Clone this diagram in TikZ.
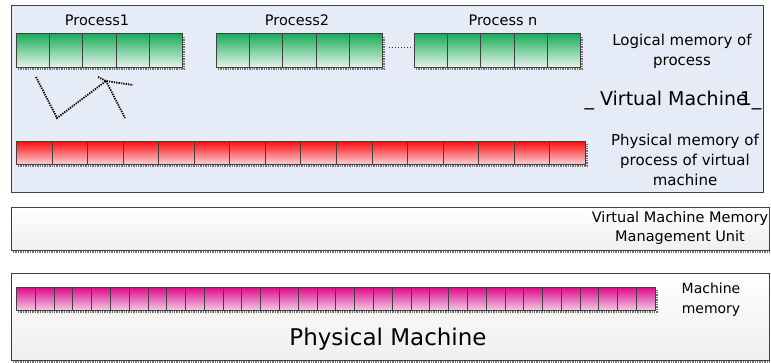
\documentclass[tikz,border=0pt]{standalone}
\usepackage{fontspec}
\setmainfont{DejaVu Sans}
\definecolor{vmbg}{HTML}{E6ECF7}
\definecolor{gtop}{HTML}{16AC58}
\definecolor{gbot}{HTML}{E8F4EA}
\definecolor{rtop}{HTML}{FF0E0E}
\definecolor{rbot}{HTML}{F7D4D8}
\definecolor{mtop}{HTML}{DE0C8A}
\definecolor{mbot}{HTML}{F3CCE6}
\definecolor{boxtop}{HTML}{FEFEFE}
\definecolor{boxbot}{HTML}{EFEFEF}
\definecolor{edge}{HTML}{404040}
\begin{document}
\begin{tikzpicture}[x=1pt,y=-1pt,
  frame/.style={draw=edge, line width=1.3pt, anchor=north west, inner sep=0pt},
  cell/.style={draw=edge, line width=1pt, anchor=north west, inner sep=0pt},
  gcell/.style={cell, top color=gtop, bottom color=gbot, minimum width=33.2pt, minimum height=34pt},
  rcell/.style={cell, top color=rtop, bottom color=rbot, minimum width=35.56pt, minimum height=23pt},
  mcell/.style={cell, top color=mtop, bottom color=mbot, minimum width=18.79pt, minimum height=23pt},
  shade line/.style={draw=black!55, densely dotted, line width=1.4pt},
  lbl/.style={align=center, inner sep=0pt, text=black},
  scribble/.style={draw=black, dash pattern=on 1.3pt off 1.1pt, line width=1.8pt},
]
\useasboundingbox (0,0) rectangle (771,362);

% outer containers
\node[frame, fill=vmbg, minimum width=752pt, minimum height=187pt] (vm) at (11,5) {};
\draw[shade line] (13,252) -- (771,252);
\node[frame, top color=boxtop, bottom color=boxbot, minimum width=758pt, minimum height=43pt] (mmu) at (11,207) {};
\draw[shade line] (13,362) -- (771,362);
\node[frame, top color=boxtop, bottom color=boxbot, minimum width=758pt, minimum height=87pt] (pm) at (11,273) {};

% shadows of the memory bars
\foreach \xa/\xb/\ya/\yb in {16/182/33/67, 216/382/33/67, 414/580/33/67, 16/585/141/164, 16/655/287/310}{
  \draw[shade line] (\xa+2,\yb+2) -- (\xb+2,\yb+2) -- (\xb+2,\ya+3);
}

% logical memory of the processes
\foreach \i in {0,...,4}{
  \node[gcell] (pa\i) at (16+\i*33.2,33) {};
  \node[gcell] (pb\i) at (216+\i*33.2,33) {};
  \node[gcell] (pc\i) at (414+\i*33.2,33) {};
}
\draw[black!80, dotted, line width=1pt] ([yshift=3pt,xshift=6pt]pb4.east) -- ([yshift=3pt,xshift=-3pt]pc0.west);

% physical memory of the virtual machine
\foreach \i in {0,...,15}{
  \node[rcell] (r\i) at (16+\i*35.56,141) {};
}

% machine memory
\foreach \i in {0,...,33}{
  \node[mcell] (m\i) at (16+\i*18.79,287) {};
}

% hand-drawn mapping arrow
\coordinate (s0) at (36,77);
\coordinate (s1) at (57,118);
\coordinate (s2) at (106,81);
\coordinate (h1) at (98,77);
\coordinate (h2) at (133,85);
\coordinate (h3) at (125,118);
\draw[scribble] (s0) -- (s1) -- (s2);
\draw[scribble] (h1) -- (s2) -- (h2);
\draw[scribble] (s2) -- (h3);

% labels
\node[lbl, font=\fontsize{14.5}{18}\selectfont] (t1) at (97,20) {Process1};
\node[lbl, font=\fontsize{14.5}{18}\selectfont] (t2) at (297,20) {Process2};
\node[lbl, font=\fontsize{14.5}{18}\selectfont] (tn) at (503,20) {Process n};
\node[lbl, font=\fontsize{15}{20}\selectfont] (logical) at (682,51) {Logical memory of\\process};
\node[lbl, font=\fontsize{19}{22}\selectfont] (vmname) at (673,101) {\_\ Virtual Machin\rlap{e}\kern0.2em 1\_};
\node[lbl, font=\fontsize{15}{20}\selectfont] (physvm) at (685,160) {Physical memory of\\process of virtual\\machine};
\node[lbl, font=\fontsize{14.5}{19}\selectfont] (mmutext) at (680,228) {Virtual Machine Memory\\Management Unit};
\node[lbl, font=\fontsize{14}{20}\selectfont] (mmem) at (711,300) {Machine\\memory};
\node[lbl, font=\fontsize{23}{26}\selectfont] (pmtext) at (388,339) {Physical Machine};
\end{tikzpicture}
\end{document}
